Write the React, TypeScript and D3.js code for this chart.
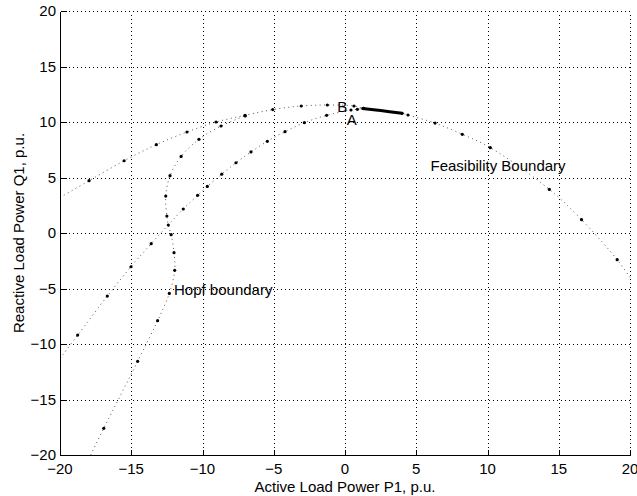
import React, { useEffect, useRef } from "react";
import * as d3 from "d3";

// points, [P1, Q1]
const feasibility: [number, number][] = [
  [-20, 3.2], [-17.96, 4.71], [-15.5, 6.51], [-13.24, 7.96], [-11.09, 9.1],
  [-9.05, 10.0], [-7.02, 10.6], [-5.07, 11.12], [-3.07, 11.44], [-1.24, 11.53],
  [0.63, 11.44], [1.3, 11.22], [4.0, 10.78], [4.42, 10.63], [6.32, 9.9],
  [8.23, 8.89], [10.2, 7.69], [14.34, 3.93], [16.6, 1.2], [19.1, -2.4], [20, -4.0],
];
const hopf: [number, number][] = [
  [-17.85, -20], [-16.93, -17.6], [-14.55, -11.56], [-13.15, -7.9], [-12.33, -5.44],
  [-11.95, -3.36], [-12.0, -1.77], [-12.2, -0.15], [-12.4, 0.72], [-12.5, 1.53],
  [-12.58, 3.33], [-12.28, 5.16], [-11.5, 6.9], [-10.25, 8.44], [-8.7, 9.64], [-7.0, 10.55],
];
const lower: [number, number][] = [
  [-20, -11.3], [-18.76, -9.2], [-16.68, -5.68], [-15.02, -3.04], [-13.6, -0.96],
  [-11.35, 2.16], [-10.34, 3.39], [-9.66, 4.2], [-8.65, 5.3], [-7.65, 6.33],
  [-6.6, 7.3], [-5.45, 8.26], [-4.21, 9.13], [-2.85, 9.94], [-1.29, 10.6],
  [0.42, 11.08], [0.87, 11.14], [1.3, 11.22],
];
const thickSegment: [number, number][] = [[1.24, 11.22], [2.5, 11.03], [4.0, 10.78]];

const xTicks = [-20, -15, -10, -5, 0, 5, 10, 15, 20];
const yTicks = [-20, -15, -10, -5, 0, 5, 10, 15, 20];

const labels = [
  { text: "Feasibility Boundary", p: 6.0, q: 5.6 },
  { text: "Hopf boundary", p: -12.0, q: -5.6 },
  { text: "B", p: -0.55, q: 10.9 },
  { text: "A", p: 0.12, q: 9.75 },
];

const W = 637;
const H = 496;
const margin = { top: 11, right: 7, bottom: 41, left: 60 };
const font = "'Liberation Sans', Arial, Helvetica, sans-serif";

const App = () => {
  const svgRef = useRef<SVGSVGElement>(null);

  useEffect(() => {
    const svg = d3.select(svgRef.current);
    svg.selectAll("*").remove();

    const x = d3.scaleLinear().domain([-20, 20]).range([margin.left, W - margin.right]);
    const y = d3.scaleLinear().domain([-20, 20]).range([H - margin.bottom, margin.top]);
    const px = (v: number) => Math.round(x(v)) + 0.5;
    const py = (v: number) => Math.round(y(v)) + 0.5;

    svg.append("rect").attr("width", W).attr("height", H).attr("fill", "#fff");

    svg
      .append("clipPath")
      .attr("id", "plotclip")
      .append("rect")
      .attr("x", x(-20))
      .attr("y", y(20) - 1)
      .attr("width", x(20) - x(-20) + 1)
      .attr("height", y(-20) - y(20) + 1);

    // grid
    const grid = svg
      .append("g")
      .attr("stroke", "#000")
      .attr("stroke-width", 1)
      .attr("stroke-dasharray", "1,3")
      .attr("shape-rendering", "crispEdges");
    xTicks.filter((t) => t !== -20).forEach((t) => {
      grid.append("line").attr("x1", px(t)).attr("x2", px(t)).attr("y1", py(-20)).attr("y2", py(20));
    });
    yTicks.filter((t) => t !== -20).forEach((t) => {
      grid.append("line").attr("y1", py(t)).attr("y2", py(t)).attr("x1", px(-20)).attr("x2", px(20));
    });

    const plot = svg.append("g").attr("clip-path", "url(#plotclip)");
    const line = d3
      .line<[number, number]>()
      .x((d) => x(d[0]))
      .y((d) => y(d[1]))
      .curve(d3.curveCatmullRom);

    [feasibility, hopf, lower].forEach((pts) => {
      plot
        .append("path")
        .attr("d", line(pts))
        .attr("fill", "none")
        .attr("stroke", "#444")
        .attr("stroke-width", 0.9)
        .attr("stroke-dasharray", "1,3.5");
      plot
        .selectAll(null)
        .data(pts.filter((d) => Math.abs(d[0]) < 20 && Math.abs(d[1]) < 20))
        .enter()
        .append("circle")
        .attr("cx", (d) => x(d[0]))
        .attr("cy", (d) => y(d[1]))
        .attr("r", 1.6)
        .attr("fill", "#000");
    });

    plot
      .append("path")
      .attr("d", line(thickSegment))
      .attr("fill", "none")
      .attr("stroke", "#000")
      .attr("stroke-width", 3)
      .attr("stroke-linecap", "round");

    // axes
    const axes = svg.append("g").attr("stroke", "#000").attr("stroke-width", 1).attr("shape-rendering", "crispEdges");
    axes.append("line").attr("x1", px(-20)).attr("x2", px(20)).attr("y1", py(-20)).attr("y2", py(-20));
    axes.append("line").attr("x1", px(-20)).attr("x2", px(-20)).attr("y1", py(-20)).attr("y2", py(20));
    xTicks.forEach((t) => {
      axes.append("line").attr("x1", px(t)).attr("x2", px(t)).attr("y1", py(-20)).attr("y2", py(-20) - 6);
    });
    yTicks.forEach((t) => {
      axes.append("line").attr("y1", py(t)).attr("y2", py(t)).attr("x1", px(-20)).attr("x2", px(-20) + 6);
    });

    const fmt = (t: number) => (t < 0 ? "\u2212" + Math.abs(t) : String(t));
    svg
      .append("g")
      .selectAll("text")
      .data(xTicks)
      .enter()
      .append("text")
      .attr("x", (d) => x(d))
      .attr("y", y(-20) + 19)
      .attr("text-anchor", "middle")
      .text(fmt);
    svg
      .append("g")
      .selectAll("text")
      .data(yTicks)
      .enter()
      .append("text")
      .attr("x", x(-20) - 4)
      .attr("y", (d) => y(d) + 5)
      .attr("text-anchor", "end")
      .text(fmt);

    svg
      .append("text")
      .attr("x", x(0))
      .attr("y", H - 4)
      .attr("text-anchor", "middle")
      .text("Active Load Power P1, p.u.");
    svg
      .append("text")
      .attr("transform", `translate(24,${y(0)}) rotate(-90)`)
      .attr("text-anchor", "middle")
      .text("Reactive Load Power Q1, p.u.");

    labels.forEach((l) => {
      svg.append("text").attr("x", x(l.p)).attr("y", y(l.q)).text(l.text);
    });

    svg.selectAll("text").attr("font-family", font).attr("font-size", 15).attr("fill", "#000");
  }, []);

  return (
    <svg
      ref={svgRef}
      width={W}
      height={H}
      style={{ position: "absolute", left: 0, top: 0, display: "block" }}
    ></svg>
  );
};

export default App;
